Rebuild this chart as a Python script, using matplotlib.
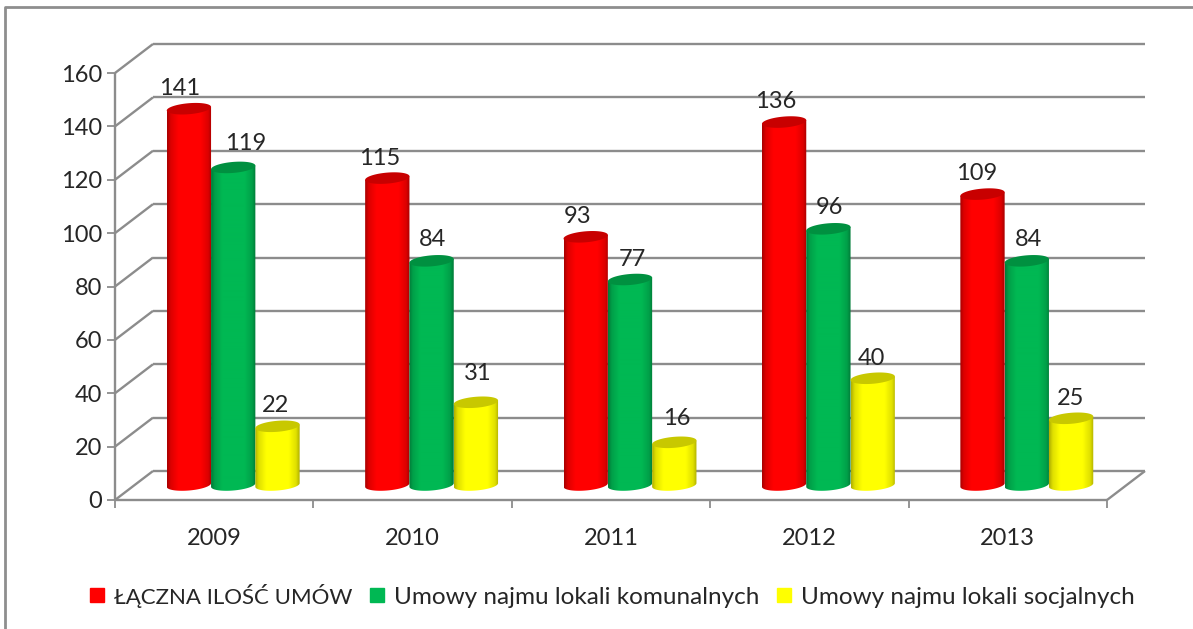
import numpy as np
import matplotlib
matplotlib.use("Agg")
import matplotlib.pyplot as plt
from matplotlib.patches import Polygon
from matplotlib.lines import Line2D

# ---- data ----
years = ["2009", "2010", "2011", "2012", "2013"]
series_names = ["ŁĄCZNA ILOŚĆ UMÓW", "Umowy najmu lokali komunalnych", "Umowy najmu lokali socjalnych"]
total = [141, 115, 93, 136, 109]
communal = [119, 84, 77, 96, 84]
social = [22, 31, 16, 40, 25]
y_ticks = [0, 20, 40, 60, 80, 100, 120, 140, 160]

# ---- styles ----
W, H = 1193, 629
mid = ["#ff0000", "#00b853", "#ffff00"]
edge = ["#a80000", "#007a38", "#b0b000"]
cap = ["#c80000", "#009040", "#c8c800"]
grid = "#8c8c8c"
ink = "#262626"
FONT = "Lato"
plt.rcParams["font.family"] = [FONT, "DejaVu Sans"]
fig = plt.figure(figsize=(W / 100, H / 100), dpi=100, facecolor="white")

# front plane of the 3-D box, in pixels
L, R, T, B = 115, 1107, 73, 500
ax = fig.add_axes([L / W, 1 - B / H, (R - L) / W, (B - T) / H])
ax.patch.set_alpha(0)
for s in ax.spines.values():
    s.set_visible(False)
px_x = (R - L) / 5      # pixels per category
px_y = (B - T) / 160    # pixels per value
DX, DY = 38 / px_x, 29 / px_y          # box depth in data units
BX, BY = 19 / px_x, 15 / px_y          # plane of the bars
bar_w = 44.3 / px_x
a = bar_w / 2
b = 5.5 / px_y
shear = 1.8 / px_y

# axis furniture
ln = dict(color=grid, lw=1.7, clip_on=False, solid_capstyle="butt", zorder=1)
for v in y_ticks:
    ax.plot([0, DX], [v, v + DY], **ln)
    ax.plot([DX, 5 + DX], [v + DY, v + DY], **ln)
ax.plot([0, 5], [0, 0], **ln)
ax.plot([0, 0], [0, 160], **ln)
ax.plot([5, 5 + DX], [0, DY], **ln)
ax.set_yticks(y_ticks)
ax.set_xticks(range(6))
ax.set_xticklabels([])
ax.tick_params(axis="both", length=5.5, width=1.3, color=grid, labelsize=17, labelcolor=ink, pad=4)
for i, yr in enumerate(years):
    ax.text(i + 0.5, -14.3, yr, ha="center", va="center", fontsize=17, color=ink)

# cylinders
t = np.linspace(0, 2 * np.pi, 121)
tt = np.linspace(np.pi, 2 * np.pi, 60)
ramp = np.array([0, 0.08, 0.25, 0.5, 0.75, 0.92, 1.0])
shade = np.array([0, 0.6, 1.0, 1.0, 1.0, 0.6, 0])
offsets_x = [-9, 12, -2, -8, 1, 2, -8, 2, 2, -8, 1, -1, -6, 2, -1]
offsets_y = [20, 24, 21, 20, 21, 29, 20, 20, 24, 21, 21, 20, 21, 21, 20]
for s, vals in enumerate([total, communal, social]):
    c0 = np.array(matplotlib.colors.to_rgb(edge[s]))
    c1 = np.array(matplotlib.colors.to_rgb(mid[s]))
    f = np.interp(np.linspace(0, 1, 90), ramp, shade)[None, :, None]
    grad = c0 + (c1 - c0) * f
    for i, v in enumerate(vals):
        cx = i + 0.5 + BX + (s - 1) * bar_w
        base, top = BY, BY + v
        lower = np.c_[cx + a * np.cos(tt), base + b * np.sin(tt) + shear * np.cos(tt)]
        upper = np.c_[cx + a * np.cos(tt[::-1]), top + shear * np.cos(tt[::-1])]
        poly = Polygon(np.r_[lower, upper], closed=True, transform=ax.transData, fc="none", ec="none")
        ax.add_patch(poly)
        im = ax.imshow(grad, extent=(cx - a, cx + a, base - b - shear, top + shear), aspect="auto",
                       zorder=3 + s * 0.1, interpolation="bilinear", origin="lower")
        im.set_clip_path(poly)
        ax.fill(cx + a * np.cos(t), top + b * np.sin(t) + shear * np.cos(t), fc=cap[s], ec="none",
                zorder=3.05 + s * 0.1, clip_on=False)
        k = i * 3 + s
        ax.annotate(str(v), xy=(cx, top), xytext=(offsets_x[k] * 0.72, offsets_y[k] * 0.72),
                    textcoords="offset points", ha="center", va="center", fontsize=17,
                    color=ink, zorder=6)
ax.set_xlim(0, 5)
ax.set_ylim(0, 160)

# legend
handles = [Line2D([], [], ls="none", marker="s", ms=10, mfc=c, mec=c) for c in mid]
leg = fig.legend(handles, series_names, loc="center", bbox_to_anchor=(611 / W, 1 - 596 / H), ncol=3,
                 frameon=False, labelcolor=ink, handlelength=0.8, handletextpad=0.3, columnspacing=0.62,
                 prop=dict(family=FONT, size=17.5), borderpad=0)
leg.get_texts()[0].set_fontsize(16)

# outer frame of the chart object
fig.add_artist(Line2D([5.5 / W, 5.5 / W, 1], [0, 1 - 7 / H, 1 - 7 / H], color="#8e8e8e", lw=2))

fig.savefig("out.png", dpi=100)
